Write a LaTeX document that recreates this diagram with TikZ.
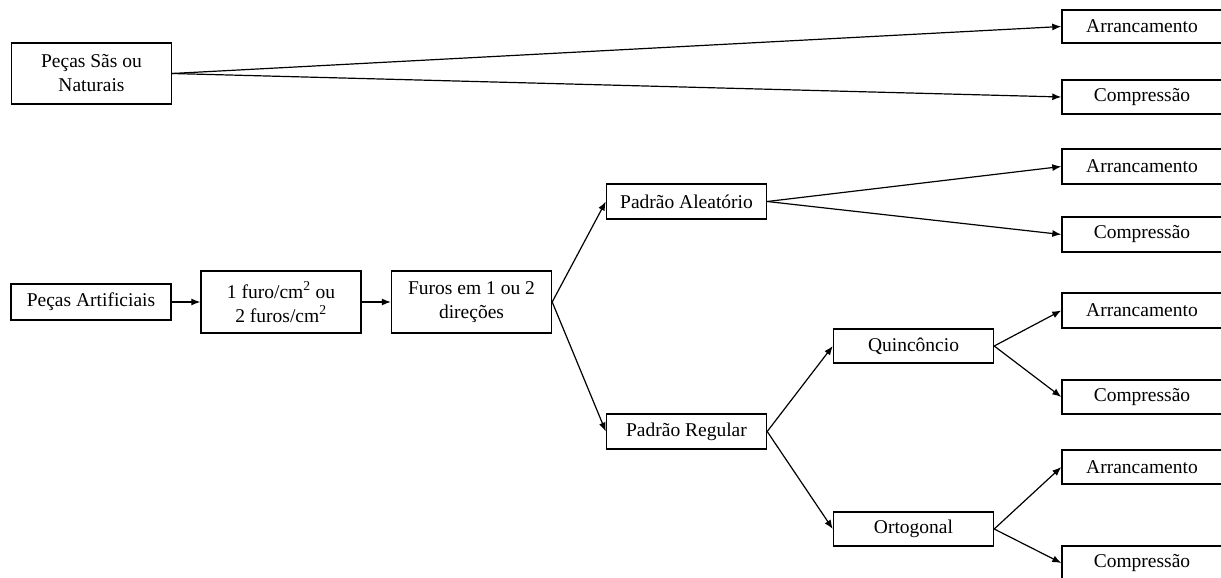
\documentclass[tikz,border=0pt]{standalone}
\usepackage{fontspec}
\setmainfont{Liberation Serif}
\usetikzlibrary{arrows.meta}
\begin{document}
\begin{tikzpicture}[x=1pt, y=-1pt,
   box/.style = {draw, line width=1.4pt, minimum width=160pt, minimum height=35pt,
      inner sep=0pt, align=center, font=\fontsize{19.5}{24}\selectfont},
   tall/.style = {box, minimum height=61pt},
   seta/.style = {-{Latex[length=9pt, width=7pt]}, line width=1.2pt}]
   \clip (0,0) rectangle (1221,578);
   % left column
   \node[tall] (nat) at (91.5,73.5) {Peças Sãs ou\\Naturais};
   \node[box, minimum height=36pt] (art) at (91,302) {Peças Artificiais};
   \node[tall, minimum height=62pt] (dens) at (281,302) {1 furo/cm\textsuperscript{2} ou\\2 furos/cm\textsuperscript{2}};
   \node[tall, minimum height=62pt] (dir) at (471.5,302) {Furos em 1 ou 2\\direções};
   % patterns
   \node[box] (alea) at (686.5,201.5) {Padrão Aleatório};
   \node[box] (reg) at (686.5,431.5) {Padrão Regular};
   \node[box, minimum height=34pt] (quin) at (913.5,346) {Quincôncio};
   \node[box, minimum height=34pt] (orto) at (913.5,529) {Ortogonal};
   % tests
   \node[box, minimum height=33pt] (arr1) at (1142,26.5) {Arrancamento};
   \node[box, minimum height=34pt] (comp1) at (1142,97) {Compressão};
   \node[box] (arr2) at (1142,166.5) {Arrancamento};
   \node[box] (comp2) at (1142,234.5) {Compressão};
   \node[box] (arr3) at (1142,310.5) {Arrancamento};
   \node[box, minimum height=34pt] (comp3) at (1142,397) {Compressão};
   \node[box, minimum height=34pt] (arr4) at (1142,467) {Arrancamento};
   \node[box, minimum height=34pt] (comp4) at (1142,563) {Compressão};
   \draw[seta] (nat.east) -- (arr1.west);
   \draw[seta] (nat.east) -- (comp1.west);
   \draw[seta] (art) -- (dens);
   \draw[seta] (dens) -- (dir);
   \draw[seta] (dir.east) -- (alea.west);
   \draw[seta] (dir.east) -- (reg.west);
   \draw[seta] (alea.east) -- (arr2.west);
   \draw[seta] (alea.east) -- (comp2.west);
   \draw[seta] (reg.east) -- (quin.west);
   \draw[seta] (reg.east) -- (orto.west);
   \draw[seta] (quin.east) -- (arr3.west);
   \draw[seta] (quin.east) -- (comp3.west);
   \draw[seta] (orto.east) -- (arr4.west);
   \draw[seta] (orto.east) -- (comp4.west);
\end{tikzpicture}
\end{document}
